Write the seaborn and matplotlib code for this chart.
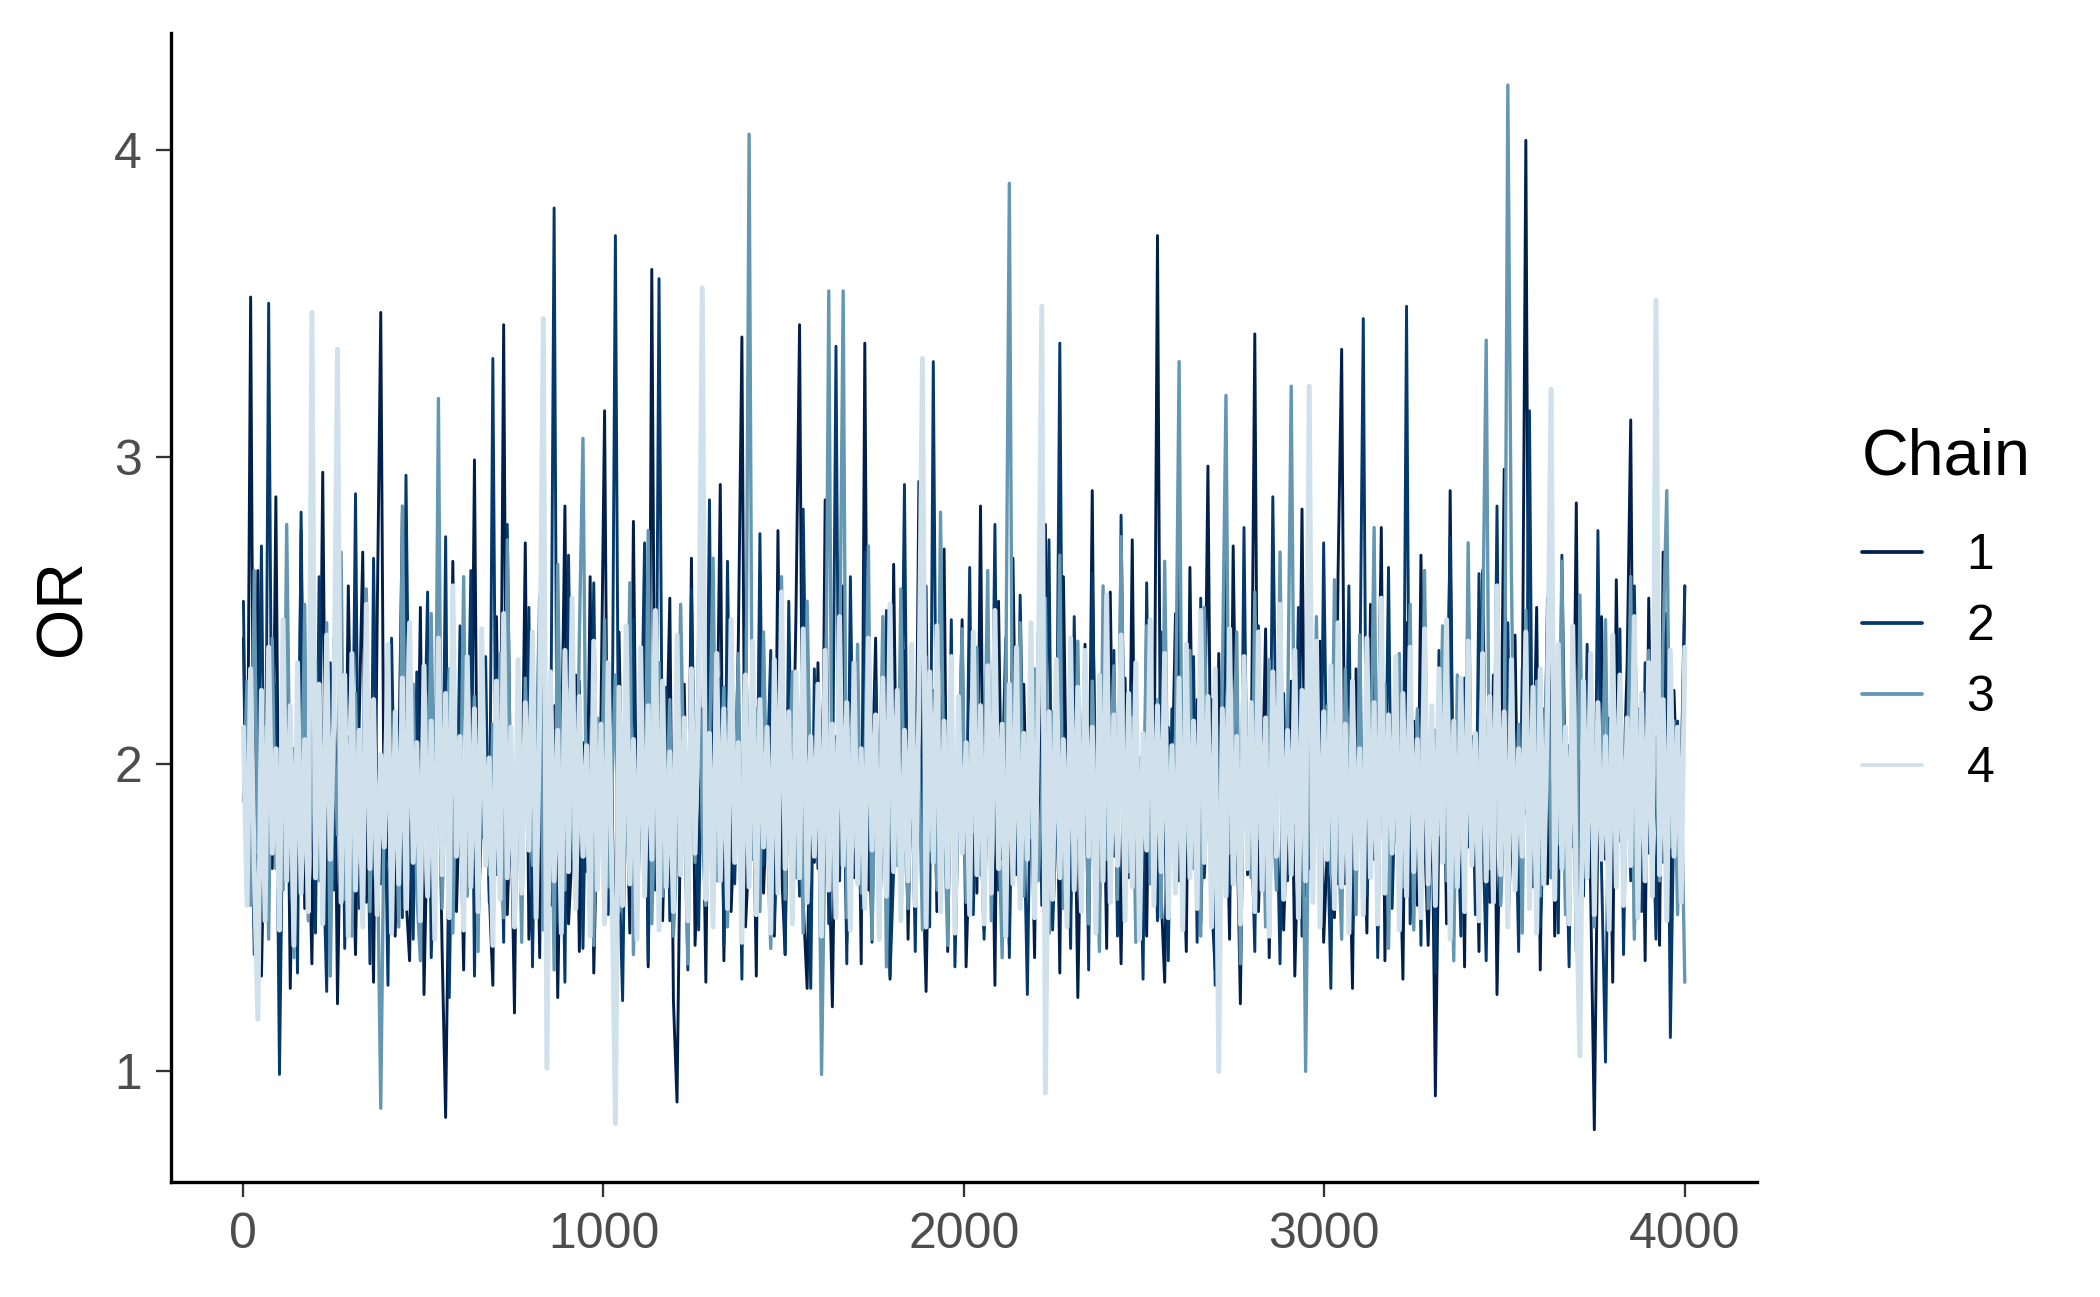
import numpy as np
import pandas as pd
import matplotlib
matplotlib.use("Agg")
import matplotlib.pyplot as plt
import seaborn as sns

# MCMC trace values (one value every ~10 iterations)
chains = ["1", "2", "3", "4"]
colors = ["#011f4b", "#03396c", "#6497b1", "#d1e1ec"]

chain_1 = [
    2.41, 1.58, 3.52, 1.47, 2.63, 1.31, 1.92, 2.18, 1.66, 2.87,
    1.42, 1.79, 2.34, 1.27, 2.05, 1.61, 2.76, 1.53, 1.88, 1.35,
    2.22, 1.74, 2.95, 1.49, 1.69, 2.41, 1.22, 1.97, 1.58, 2.58,
    1.83, 1.38, 2.13, 2.69, 1.55, 1.91, 1.29, 2.46, 3.47, 1.64,
    1.73, 2.27, 1.44, 1.99, 2.82, 1.57, 1.36, 2.09, 1.68, 2.51,
    1.25, 1.86, 2.37, 1.62, 2.14, 1.41, 0.85, 1.78, 2.66, 1.52,
    1.94, 1.33, 2.24, 1.71, 2.99, 1.46, 1.84, 2.03, 1.59, 1.28,
    2.48, 1.67, 3.43, 1.51, 1.89, 1.19, 2.31, 1.76, 2.72, 1.43,
    1.63, 2.11, 1.37, 2.57, 1.82, 1.54, 2.19, 1.24, 1.96, 2.84,
    1.48, 1.72, 2.29, 1.39, 2.07, 1.65, 2.61, 1.32, 1.87, 2.16,
    3.15, 1.56, 1.93, 1.26, 2.43, 1.77, 2.01, 1.45, 2.79, 1.61,
    1.81, 2.35, 1.34, 3.61, 1.69, 2.12, 1.49, 1.98, 2.54, 1.23,
    0.90, 1.88, 2.26, 1.57, 2.67, 1.41, 1.75, 2.08, 1.29, 2.44,
    1.64, 1.95, 2.91, 1.36, 2.17, 1.52, 1.83, 2.39, 3.39, 1.47,
    1.72, 2.04, 1.31, 2.62, 1.58, 1.90, 2.23, 1.44, 2.76, 1.66,
    1.38, 2.14, 1.79, 2.49, 3.43, 1.55, 1.27, 2.02, 1.68, 2.33,
    1.51, 2.86, 1.74, 1.21, 2.09, 1.86, 2.58, 1.42, 1.97, 1.63,
    2.28, 1.35, 3.37, 1.59, 1.92, 2.41, 1.48, 1.78, 2.19, 1.30,
    2.65, 1.67, 1.84, 2.37, 1.43, 2.06, 1.56, 2.92, 1.71, 1.26,
    1.99, 2.24, 1.52, 1.81, 2.70, 1.39, 2.13, 1.62, 1.89, 2.47,
    1.34, 1.76, 2.31, 1.58, 2.84, 1.46, 1.95, 2.11, 1.28, 2.53,
    1.69, 2.02, 1.41, 2.67, 1.82, 1.54, 2.26, 1.73, 1.99, 1.37,
    2.43, 1.61, 2.78, 1.45, 1.87, 2.18, 1.32, 2.61, 1.75, 1.53,
    2.08, 1.24, 1.93, 2.39, 1.66, 2.89, 1.49, 1.79, 2.15, 1.40,
    2.56, 1.70, 1.97, 1.35, 2.28, 1.63, 2.73, 1.51, 1.85, 2.04,
    1.44, 2.33, 1.77, 3.72, 1.58, 1.29, 2.12, 1.91, 2.49, 1.62,
    1.81, 1.39, 2.64, 1.73, 2.21, 1.48, 1.94, 2.97, 1.56, 1.33,
    2.36, 1.68, 2.05, 1.43, 2.71, 1.84, 1.22, 2.17, 1.64, 1.98,
    3.40, 1.52, 1.86, 2.44, 1.37, 2.09, 1.74, 2.58, 1.46, 1.90,
    2.27, 1.31, 1.79, 2.83, 1.57, 2.13, 1.66, 1.95, 2.40, 1.42,
    1.72, 2.19, 1.50, 2.62, 3.35, 1.61, 1.88, 1.27, 2.31, 1.76,
    2.01, 1.45, 2.52, 1.69, 1.93, 2.77, 1.36, 2.08, 1.59, 2.23,
    1.83, 1.30, 2.46, 1.67, 2.14, 1.54, 2.68, 1.78, 1.41, 1.97,
    0.92, 1.85, 2.35, 1.48, 2.89, 1.63, 1.96, 2.21, 1.34, 2.57,
    1.71, 2.04, 1.39, 2.63, 1.82, 1.55, 2.29, 1.25, 1.92, 2.96,
    1.47, 1.76, 2.42, 1.58, 2.13, 4.03, 1.66, 1.87, 2.51, 1.33,
    2.18, 1.61, 2.74, 1.44, 1.91, 2.37, 1.52, 2.06, 1.73, 2.85,
    1.38, 1.95, 2.26, 1.57, 0.81, 1.84, 2.48, 1.69, 2.11, 1.29,
    2.60, 1.75, 1.93, 2.32, 3.12, 1.46, 1.81, 2.17, 1.36, 2.54,
    1.64, 2.03, 1.41, 2.69, 1.78, 1.53, 2.24, 1.86, 1.97, 2.58,
]

chain_2 = [
    2.53, 1.62, 2.14, 1.38, 1.87, 2.71, 1.49, 3.50, 1.73, 2.26,
    0.99, 1.94, 2.38, 1.56, 2.05, 1.32, 2.82, 1.68, 1.83, 2.17,
    1.45, 2.61, 1.77, 1.26, 2.33, 1.59, 1.98, 2.49, 1.40, 2.09,
    1.71, 2.88, 1.53, 1.92, 2.22, 1.35, 2.67, 1.81, 1.61, 2.04,
    1.28, 2.41, 1.74, 2.13, 1.50, 2.94, 1.86, 1.43, 2.30, 1.65,
    1.97, 2.56, 1.37, 1.79, 2.19, 1.58, 2.74, 1.24, 2.01, 1.70,
    2.45, 1.47, 1.89, 2.63, 1.31, 2.12, 1.76, 2.35, 1.55, 3.32,
    1.64, 2.07, 1.42, 2.78, 1.84, 1.52, 2.24, 1.69, 1.95, 2.51,
    1.34, 2.16, 1.73, 2.42, 1.60, 1.91, 3.81, 1.48, 2.03, 1.29,
    2.68, 1.82, 1.57, 2.27, 1.40, 2.11, 1.75, 2.59, 1.63, 1.98,
    2.34, 1.51, 1.86, 3.72, 1.67, 1.23, 2.15, 1.78, 2.47, 1.44,
    1.92, 2.72, 1.36, 2.06, 1.59, 3.58, 1.81, 2.25, 1.49, 1.72,
    2.39, 1.64, 2.01, 1.33, 2.57, 1.88, 1.46, 2.18, 1.70, 2.86,
    1.55, 1.94, 2.28, 1.41, 2.66, 1.77, 1.61, 2.09, 1.30, 2.44,
    1.83, 2.12, 1.52, 2.75, 1.67, 1.96, 2.37, 1.45, 1.85, 2.21,
    1.38, 2.53, 1.74, 2.04, 1.57, 2.83, 1.90, 1.27, 2.31, 1.66,
    1.99, 2.42, 1.48, 1.80, 3.36, 1.62, 2.16, 1.35, 2.61, 1.76,
    2.08, 1.53, 2.69, 1.87, 1.42, 2.27, 1.71, 1.97, 2.50, 1.31,
    1.65, 2.19, 1.84, 2.91, 1.56, 2.03, 1.39, 2.36, 1.79, 2.58,
    1.47, 3.31, 1.73, 1.95, 2.22, 1.60, 2.47, 1.34, 1.89, 2.13,
    1.68, 2.64, 1.51, 2.07, 1.82, 1.43, 2.32, 1.76, 2.78, 1.59,
    1.93, 2.41, 1.37, 2.17, 1.64, 2.55, 1.86, 1.25, 2.10, 1.72,
    2.29, 1.54, 1.97, 2.73, 1.46, 1.81, 3.37, 1.66, 2.03, 1.40,
    2.48, 1.78, 1.59, 2.24, 1.33, 2.62, 1.91, 1.52, 2.14, 1.69,
    1.85, 2.37, 1.44, 2.81, 1.72, 1.98, 2.26, 1.57, 1.89, 1.30,
    2.59, 1.67, 2.06, 1.49, 2.43, 1.81, 1.36, 2.18, 1.74, 2.69,
    1.53, 2.01, 1.87, 2.35, 1.42, 2.54, 1.63, 1.95, 2.21, 1.28,
    2.12, 1.76, 2.66, 1.58, 1.90, 2.29, 1.47, 2.77, 1.69, 1.84,
    1.39, 2.45, 1.71, 2.08, 1.55, 2.87, 1.93, 1.35, 2.23, 1.62,
    2.02, 1.79, 2.51, 1.44, 2.15, 1.66, 1.97, 2.38, 1.50, 2.72,
    1.83, 1.27, 2.33, 1.61, 2.06, 1.74, 2.58, 1.46, 1.92, 2.19,
    3.45, 1.57, 1.88, 2.41, 1.37, 2.11, 1.70, 2.64, 1.53, 1.99,
    2.27, 1.64, 3.49, 1.48, 1.85, 2.16, 1.41, 2.52, 1.76, 1.95,
    1.32, 2.37, 1.69, 2.03, 2.74, 1.58, 1.87, 1.44, 2.28, 1.73,
    2.09, 1.51, 2.62, 1.80, 1.36, 2.20, 1.67, 2.84, 1.55, 1.93,
    2.46, 1.72, 1.98, 1.39, 2.31, 1.84, 3.15, 1.60, 2.05, 1.47,
    1.78, 2.54, 1.63, 2.13, 1.45, 2.68, 1.90, 1.34, 2.24, 1.70,
    2.01, 1.57, 2.39, 1.82, 1.49, 2.76, 1.66, 1.03, 2.15, 1.94,
    1.76, 2.44, 1.38, 2.07, 1.62, 2.58, 1.85, 1.52, 2.33, 1.71,
    1.96, 1.43, 2.27, 1.68, 2.49, 1.11, 1.87, 2.14, 1.59, 2.58,
]

chain_3 = [
    1.88, 2.27, 1.54, 2.63, 1.71, 1.96, 2.12, 1.43, 2.41, 1.66,
    2.05, 1.59, 2.78, 1.82, 1.37, 2.19, 1.74, 2.52, 1.49, 1.93,
    2.34, 1.62, 1.85, 2.46, 1.31, 2.08, 1.77, 2.69, 1.56, 2.01,
    1.44, 2.23, 1.68, 1.97, 2.57, 1.52, 2.14, 1.80, 0.88, 1.91,
    2.38, 1.63, 2.04, 1.47, 2.84, 1.75, 1.92, 2.26, 1.58, 1.36,
    2.17, 1.84, 2.49, 1.69, 3.19, 1.53, 1.99, 2.31, 1.45, 2.07,
    1.72, 2.61, 1.57, 1.88, 2.22, 1.39, 2.44, 1.81, 1.64, 2.13,
    1.95, 2.36, 1.50, 2.73, 1.78, 1.61, 2.09, 1.42, 2.28, 1.86,
    1.67, 2.02, 2.55, 1.46, 1.94, 2.18, 1.33, 2.65, 1.76, 1.59,
    2.24, 1.83, 1.55, 2.41, 3.06, 1.70, 1.98, 1.41, 2.15, 1.79,
    2.47, 1.60, 1.91, 2.29, 1.52, 2.06, 1.74, 2.59, 1.38, 1.87,
    2.11, 1.65, 2.76, 1.48, 1.96, 2.33, 1.57, 1.82, 2.21, 1.44,
    1.73, 2.52, 1.89, 1.35, 2.14, 1.68, 2.42, 1.79, 1.54, 2.03,
    2.67, 1.62, 1.93, 2.25, 1.47, 2.09, 1.77, 2.36, 1.58, 1.85,
    4.05, 1.69, 2.18, 1.52, 2.43, 1.81, 1.40, 2.01, 1.74, 2.61,
    1.56, 1.97, 2.30, 1.63, 2.08, 1.45, 2.53, 1.86, 1.71, 2.19,
    0.99, 1.84, 3.54, 1.61, 1.92, 2.27, 3.54, 1.50, 2.12, 1.73,
    2.39, 1.58, 1.95, 2.71, 1.43, 2.05, 1.80, 2.48, 1.34, 1.90,
    2.16, 1.67, 2.57, 1.79, 1.53, 2.24, 1.88, 2.02, 1.46, 2.35,
    1.72, 2.11, 1.59, 2.82, 1.85, 1.41, 2.29, 1.68, 1.97, 2.44,
    1.55, 2.07, 1.78, 2.38, 1.64, 1.92, 2.63, 1.49, 2.14, 1.83,
    1.37, 2.21, 3.89, 1.70, 1.96, 2.46, 1.57, 2.03, 1.76, 2.31,
    1.62, 1.89, 2.54, 1.45, 2.17, 1.81, 2.68, 1.53, 1.94, 2.12,
    1.74, 2.40, 1.60, 2.06, 1.48, 2.27, 1.86, 1.39, 2.58, 1.69,
    1.99, 2.32, 1.56, 2.74, 1.83, 1.65, 2.15, 1.42, 2.02, 1.78,
    2.45, 1.61, 1.88, 2.21, 1.50, 2.66, 1.73, 1.95, 2.09, 3.31,
    1.58, 1.84, 2.37, 1.66, 2.04, 1.44, 2.51, 1.79, 1.92, 2.18,
    1.52, 2.28, 3.20, 1.71, 1.98, 2.43, 1.35, 2.11, 1.82, 1.63,
    2.56, 1.76, 2.01, 1.47, 2.34, 1.87, 1.59, 2.69, 1.68, 2.13,
    3.23, 1.81, 1.96, 2.24, 1.00, 2.07, 1.72, 2.48, 1.55, 1.90,
    2.19, 1.64, 2.60, 1.78, 1.43, 2.31, 1.85, 2.05, 1.51, 2.42,
    1.69, 2.14, 1.89, 2.77, 1.57, 1.97, 2.26, 1.40, 2.08, 1.75,
    2.36, 1.60, 1.83, 2.52, 1.46, 2.18, 1.70, 2.63, 1.53, 1.94,
    2.11, 1.77, 2.45, 1.62, 2.01, 1.36, 2.29, 1.86, 1.58, 2.72,
    1.73, 2.06, 1.49, 2.39, 3.38, 1.66, 1.91, 2.20, 1.54, 1.84,
    4.21, 2.62, 1.68, 2.13, 1.45, 2.50, 1.80, 1.97, 2.27, 1.57,
    1.93, 2.41, 1.63, 2.08, 1.74, 2.66, 1.51, 1.88, 2.16, 1.39,
    2.55, 1.71, 1.99, 2.33, 1.47, 2.12, 1.82, 2.47, 1.60, 2.04,
    1.76, 2.28, 1.56, 1.95, 2.61, 1.43, 2.18, 1.85, 1.67, 2.37,
    1.89, 2.09, 1.62, 2.42, 2.89, 1.73, 2.14, 1.51, 1.96, 1.29,
]

chain_4 = [
    2.12, 1.54, 2.31, 1.66, 1.17, 2.24, 1.49, 2.38, 1.71, 2.05,
    1.46, 2.47, 1.62, 2.19, 1.41, 2.33, 1.58, 2.08, 1.52, 3.47,
    1.63, 2.26, 1.48, 2.42, 1.69, 2.15, 3.35, 1.55, 2.29, 1.44,
    2.36, 1.59, 2.11, 1.47, 2.52, 1.66, 2.21, 1.51, 2.03, 1.73,
    2.39, 1.45, 2.17, 1.61, 2.28, 1.53, 2.46, 1.68, 2.07, 1.49,
    2.32, 1.57, 2.14, 1.43, 2.41, 1.64, 2.23, 1.50, 2.58, 1.70,
    2.09, 1.46, 2.35, 1.60, 2.18, 1.52, 2.44, 1.67, 2.02, 1.41,
    2.27, 1.56, 2.49, 1.63, 2.12, 1.47, 2.34, 1.58, 2.20, 1.72,
    2.43, 1.50, 2.16, 3.45, 1.01, 2.30, 1.62, 2.11, 1.45, 2.37,
    1.65, 2.54, 1.53, 2.22, 1.70, 2.06, 1.44, 2.40, 1.59, 2.13,
    1.48, 2.33, 1.66, 0.83, 2.25, 1.54, 2.45, 1.61, 2.08, 1.43,
    2.38, 1.57, 2.19, 1.69, 2.50, 1.46, 2.27, 1.60, 2.04, 1.52,
    2.42, 1.64, 2.15, 1.49, 2.31, 1.71, 2.23, 3.55, 1.56, 2.10,
    1.47, 2.36, 1.62, 2.18, 1.53, 2.47, 1.68, 2.07, 1.42, 2.29,
    1.60, 2.40, 1.51, 2.21, 1.73, 2.12, 1.45, 2.34, 1.58, 2.56,
    1.66, 2.17, 1.48, 2.30, 1.63, 2.44, 1.55, 2.09, 1.70, 2.26,
    1.44, 2.37, 1.59, 2.13, 1.50, 2.48, 1.67, 2.20, 1.46, 2.33,
    1.61, 2.05, 1.53, 2.41, 1.72, 2.16, 1.43, 2.28, 1.57, 2.52,
    1.65, 2.24, 1.49, 2.11, 1.62, 2.39, 1.54, 2.18, 3.32, 1.47,
    2.30, 1.68, 2.45, 1.52, 2.14, 1.60, 2.35, 1.45, 2.22, 1.71,
    2.07, 1.51, 2.43, 1.64, 2.19, 1.48, 2.32, 1.58, 2.50, 1.66,
    2.13, 1.44, 2.26, 1.61, 2.38, 1.53, 2.10, 1.69, 2.46, 1.50,
    2.21, 3.49, 0.93, 2.17, 1.56, 2.34, 1.63, 2.08, 1.47, 2.41,
    1.59, 2.25, 1.52, 2.37, 1.70, 2.12, 1.45, 2.29, 1.62, 2.55,
    1.55, 2.16, 1.67, 2.42, 1.49, 2.23, 1.60, 2.33, 1.43, 2.10,
    1.72, 2.47, 1.54, 2.19, 1.65, 2.36, 1.50, 2.06, 1.58, 2.28,
    1.46, 2.39, 1.63, 2.14, 1.53, 2.50, 1.68, 2.22, 1.47, 2.31,
    1.00, 2.18, 1.57, 2.44, 1.61, 2.09, 1.48, 2.35, 1.66, 2.20,
    1.52, 2.43, 1.59, 2.15, 1.44, 2.30, 1.70, 2.52, 1.56, 2.11,
    1.64, 2.37, 1.50, 2.24, 1.62, 3.23, 1.55, 2.40, 1.47, 2.17,
    1.69, 2.32, 1.53, 2.46, 1.60, 2.13, 1.45, 2.27, 1.66, 2.05,
    1.51, 2.41, 1.63, 2.20, 1.48, 2.54, 1.58, 2.16, 1.71, 2.35,
    1.46, 2.23, 1.57, 2.38, 1.65, 2.08, 1.50, 2.44, 1.61, 2.19,
    1.54, 2.31, 1.68, 2.47, 1.43, 2.14, 1.60, 2.28, 1.52, 2.40,
    1.67, 2.10, 1.49, 2.36, 1.62, 2.22, 1.55, 2.58, 1.64, 2.17,
    1.47, 2.34, 1.59, 2.05, 1.70, 2.43, 1.53, 2.25, 1.45, 2.31,
    1.61, 2.18, 3.22, 1.56, 2.39, 1.66, 2.12, 1.48, 2.45, 1.58,
    1.05, 2.27, 1.63, 2.36, 1.51, 2.20, 1.69, 2.09, 1.46, 2.42,
    1.60, 2.29, 1.54, 2.15, 1.67, 2.48, 1.50, 2.23, 1.62, 2.33,
    1.57, 3.51, 1.64, 2.21, 1.49, 2.37, 1.70, 2.12, 1.55, 2.38,
]

iteration = np.linspace(1, 4000, len(chain_1)).round()

# long format table for seaborn
df = pd.concat([
    pd.DataFrame({"iteration": iteration, "OR": vals, "Chain": name})
    for name, vals in zip(chains, [chain_1, chain_2, chain_3, chain_4])
])

sns.set_theme(style="ticks")
plt.rcParams["font.family"] = ["Liberation Sans", "DejaVu Sans"]

fig = plt.figure(figsize=(7, 1297 / 300), dpi=300)
ax = fig.add_axes([0.0816, 0.0887, 0.755, 0.886])

sns.lineplot(
    data=df, x="iteration", y="OR", hue="Chain",
    hue_order=chains, palette=colors,
    estimator=None, sort=False, linewidth=0.7, ax=ax,
)

# the light chain is much denser in the original, thicker line fills it in
ax.lines[3].set_linewidth(1.2)
ax.lines[2].set_linewidth(0.8)

ax.set_xticks([0, 1000, 2000, 3000, 4000])
ax.set_yticks([1, 2, 3, 4])
ax.set_xlabel("")
ax.set_ylabel("OR", fontsize=15.5, labelpad=5, color="black")

for side in ["top", "right"]:
    ax.spines[side].set_visible(False)
for side in ["left", "bottom"]:
    ax.spines[side].set_color("black")
    ax.spines[side].set_linewidth(0.8)

ax.tick_params(axis="both", labelsize=12, labelcolor="#4d4d4d",
               color="#333333", length=3.6, width=0.55, pad=3.5)

# legend outside on the right
ax.get_legend().remove()
handles = [plt.Line2D([], [], color=c, linewidth=0.9) for c in colors]
leg = fig.legend(handles, chains, title="Chain", loc="center left",
                 bbox_to_anchor=(0.865, 0.53), frameon=False,
                 fontsize=12, title_fontsize=15.5, handlelength=1.2,
                 handletextpad=0.9, labelspacing=0.5, labelcolor="black")
leg.get_title().set_color("black")
leg._legend_box.align = "left"
leg._legend_box.sep = 11

plt.savefig("out.png", dpi=300)
